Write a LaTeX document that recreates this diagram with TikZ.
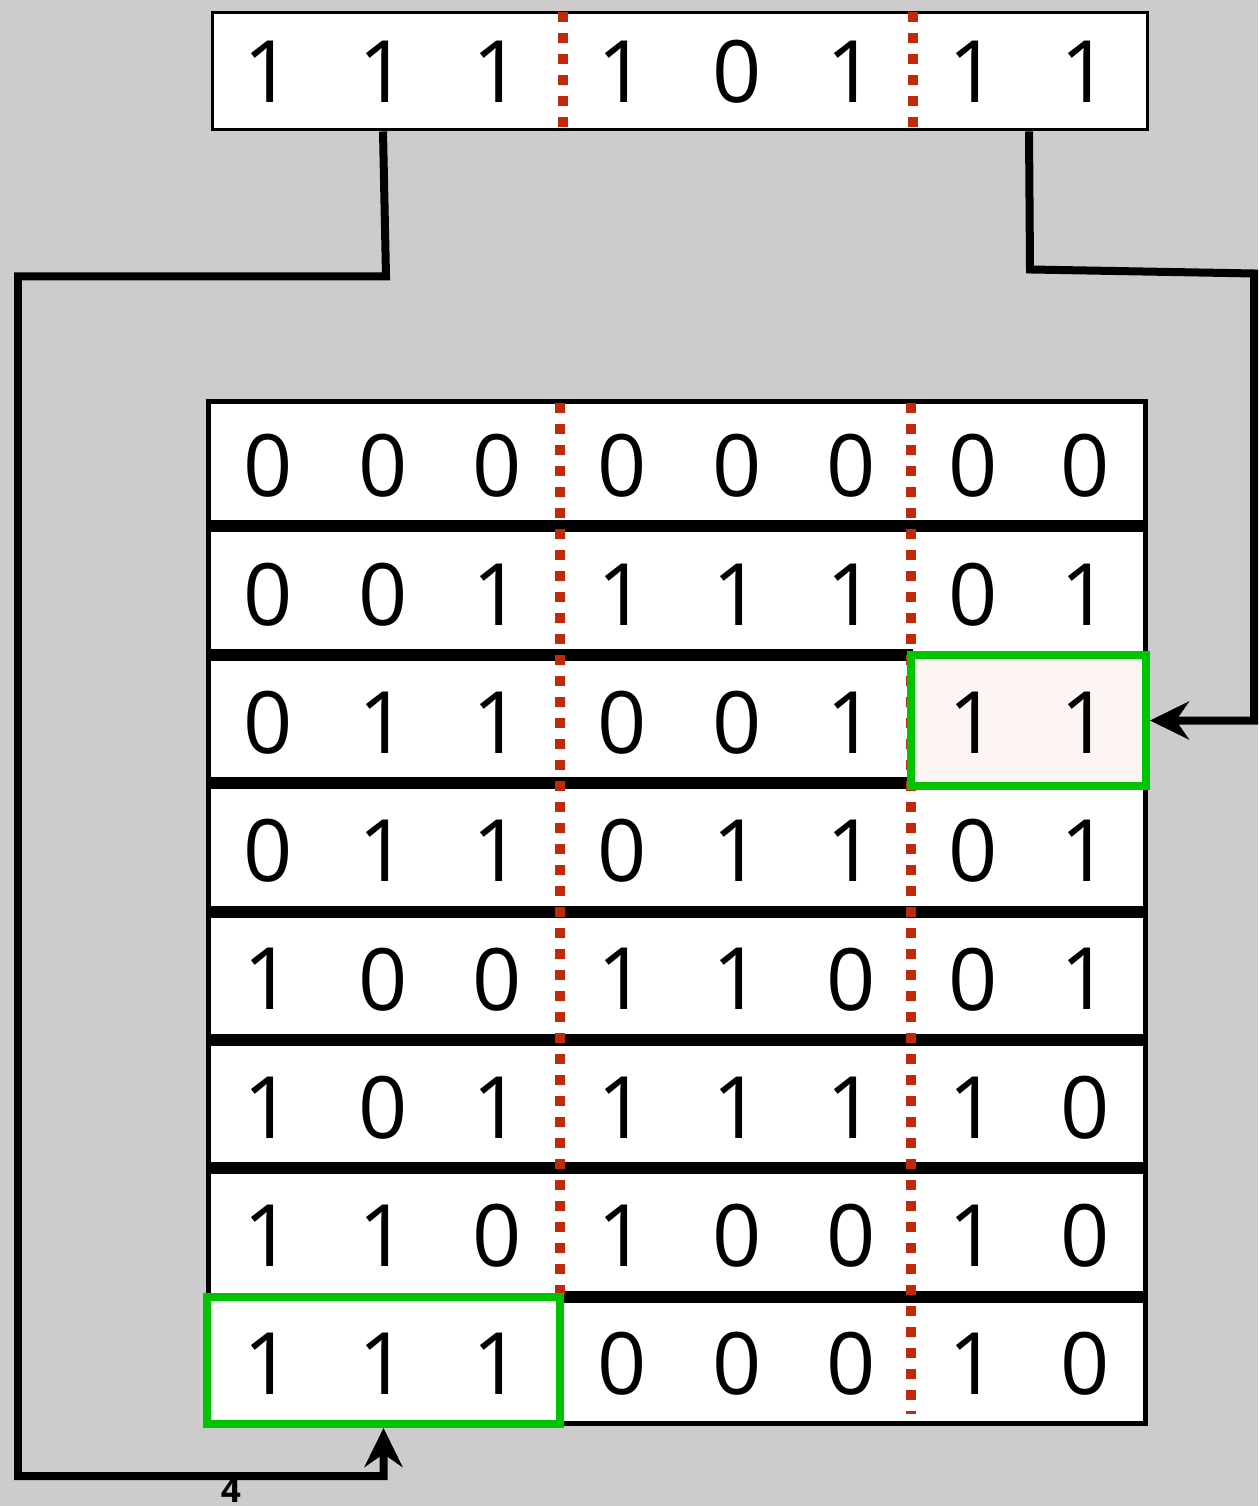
\documentclass[tikz,border=0pt]{standalone}
\usepackage{fontspec}
\setmainfont{Open Sans}
\usetikzlibrary{arrows.meta, calc}
\definecolor{bggray}{RGB}{204,204,204}
\definecolor{divred}{RGB}{194,40,10}
\definecolor{hit}{RGB}{0,196,0}
\definecolor{hitfill}{RGB}{253,245,243}

\begin{document}
\begin{tikzpicture}[
    x=0.02cm, y=-0.02cm,
    bit/.style={font=\fontsize{49}{50}\selectfont, inner sep=0pt, text=black},
    regbox/.style={draw, fill=white, inner sep=0pt},
    divider/.style={color=divred, line width=0.2cm, dash pattern=on 0.2cm off 0.22cm},
    rowline/.style={line width=0.23cm},
    grpbox/.style={draw=hit, line width=0.16cm, inner sep=0pt},
    ptr/.style={line width=0.16cm, -{Stealth[length=0.78cm, width=0.76cm, inset=0.26cm]}},
    lbl/.style={font=\fontsize{20}{20}\selectfont\bfseries}
]
\useasboundingbox (0,0) rectangle (1258,1506);
\fill[bggray] (0,0) rectangle (1258,1506);
\def\colx{{268,383,497,622,737,851,973,1085}}

% key register
\node[regbox, line width=0.06cm, minimum width=18.72cm, minimum height=2.36cm] (key) at (680,71) {};
\draw[divider] (563,12) -- (563,130);
\draw[divider] (913,12) -- (913,130);
\foreach \v [count=\c] in {1,1,1,1,0,1,1,1} {
    \pgfmathsetmacro\cx{\colx[\c-1]}
    \node[bit] (t\c) at (\cx,72) {\v};
}
\coordinate (k78) at ($(t7)!0.5!(t8)$);

% table
\node[regbox, line width=0.1cm, minimum width=18.76cm, minimum height=20.46cm] (tbl) at (677,912.5) {};
\foreach \y in {526,912,1040,1168}
    \draw[rowline] (208,\y) -- (1146,\y);
\draw[rowline] (208,655) -- (913,655);
\draw[rowline] (208,783) -- (913,783);
\draw[rowline] (555,1297) -- (1146,1297);
\draw[divider] (560,403) -- (560,1297);
\draw[divider] (911,403) -- (911,1414);

\node[grpbox, fill=hitfill, minimum width=4.7cm, minimum height=2.62cm] (g3) at (1028.5,720.5) {};
\node[grpbox, fill=white, minimum width=7.06cm, minimum height=2.54cm] (g8) at (383.5,1360.5) {};

\foreach \row [count=\r] in {{0,0,0,0,0,0,0,0},{0,0,1,1,1,1,0,1},{0,1,1,0,0,1,1,1},{0,1,1,0,1,1,0,1},
                             {1,0,0,1,1,0,0,1},{1,0,1,1,1,1,1,0},{1,1,0,1,0,0,1,0},{1,1,1,0,0,0,1,0}} {
    \foreach \v [count=\c] in \row {
        \pgfmathsetmacro\cx{\colx[\c-1]}
        \pgfmathsetmacro\cy{466+(\r-1)*128.3}
        \node[bit] (r\r c\c) at (\cx,\cy) {\v};
    }
}

% connectors
\draw[ptr] (t2 |- key.south) -- ++(3,145) -| (18,1476) -| (g8.south);
\node[lbl] (cnt) at (231,1490) {4};
\draw[ptr] (k78 |- key.south) -- ++(1,138) -- ++(224,4) |- (g3.east);
\end{tikzpicture}
\end{document}
